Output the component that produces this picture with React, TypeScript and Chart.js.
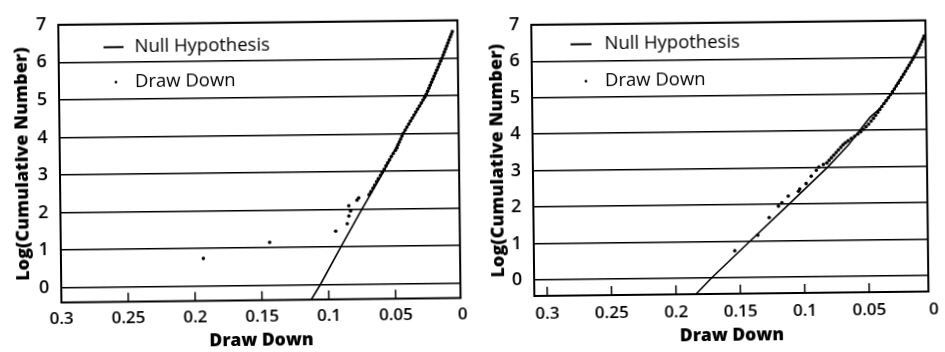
import { useEffect, useRef } from "react";
import { Chart, registerables } from "chart.js";

Chart.register(...registerables);

const FONT = "'Open Sans', 'DejaVu Sans', sans-serif";

// Shared axis ticks and labels (x axis runs from 0.3 down to 0)
const xTickValues = [0.3, 0.25, 0.2, 0.15, 0.1, 0.05, 0];
const xTickLabels = ["0.3", "0.25", "0.2", "0.15", "0.1", "0.05", "0"];
const yTickValues = [0, 1, 2, 3, 4, 5, 6, 7];

const seriesNames = ["Null Hypothesis", "Draw Down"];
const xTitle = "Draw Down";
const yTitle = "Log(Cumulative Number)";

// Left panel: null-hypothesis curve [drawdown, log count]
const leftNull: [number, number][] = [
  [0.1135, -0.42], [0.1062, 0], [0.0905, 1], [0.0744, 2], [0.0578, 3],
  [0.0429, 4], [0.0255, 5], [0.0132, 6], [0.0052, 6.72],
];

// Left panel: observed drawdowns
const leftDrawDown: [number, number][] = [
  [0.1935, 0.73], [0.1438, 1.14], [0.0943, 1.42], [0.0856, 1.61], [0.0843, 1.82],
  [0.083, 1.95], [0.0843, 2.09], [0.0781, 2.24], [0.0768, 2.3],
  [0.069, 2.38], [0.0676, 2.46], [0.0661, 2.55], [0.0648, 2.63], [0.0633, 2.72],
  [0.062, 2.8], [0.0604, 2.89], [0.0591, 2.97], [0.0576, 3.05], [0.0562, 3.14],
  [0.0549, 3.22], [0.0535, 3.3], [0.0521, 3.39], [0.0506, 3.47], [0.049, 3.55],
  [0.0478, 3.62], [0.047, 3.7], [0.046, 3.77], [0.045, 3.85], [0.044, 3.93],
  [0.0428, 4.01], [0.0415, 4.09], [0.0402, 4.17], [0.0388, 4.25], [0.0375, 4.33],
  [0.0361, 4.41], [0.0347, 4.49], [0.0334, 4.57], [0.032, 4.65], [0.0306, 4.73],
  [0.0292, 4.81], [0.0279, 4.89], [0.0266, 4.96], [0.0254, 5.04], [0.0244, 5.12],
  [0.0234, 5.2], [0.0224, 5.28], [0.0214, 5.36], [0.0204, 5.44], [0.0194, 5.52],
  [0.0184, 5.6], [0.0174, 5.68], [0.0164, 5.76], [0.0154, 5.84], [0.0144, 5.92],
  [0.0133, 6.0], [0.0124, 6.08], [0.0115, 6.16], [0.0106, 6.24], [0.0097, 6.32],
  [0.0088, 6.4], [0.0079, 6.48], [0.007, 6.56], [0.0062, 6.63], [0.0054, 6.7],
];

// Right panel: null-hypothesis curve
const rightNull: [number, number][] = [
  [0.1845, -0.44], [0.1723, 0], [0.142, 1], [0.1115, 2], [0.0813, 3],
  [0.065, 3.6], [0.056, 4.0], [0.048, 4.35], [0.04, 4.6], [0.031, 5.0],
  [0.013, 6.0], [0.0052, 6.57],
];

// Right panel: observed drawdowns
const rightDrawDown: [number, number][] = [
  [0.154, 0.74], [0.136, 1.16], [0.127, 1.64], [0.1197, 1.95], [0.117, 2.04],
  [0.112, 2.22], [0.104, 2.35], [0.103, 2.41], [0.098, 2.56], [0.094, 2.76],
  [0.09, 2.92], [0.088, 3.01], [0.0845, 3.08],
  [0.0818, 3.12], [0.08, 3.19], [0.0782, 3.26], [0.0763, 3.33], [0.0745, 3.4],
  [0.0727, 3.47], [0.0708, 3.54], [0.069, 3.61], [0.0671, 3.67], [0.065, 3.72],
  [0.0625, 3.78], [0.06, 3.84], [0.0575, 3.9], [0.0552, 3.96], [0.053, 4.03],
  [0.051, 4.1], [0.049, 4.17], [0.047, 4.25], [0.0452, 4.33], [0.0435, 4.41],
  [0.0418, 4.49], [0.0402, 4.57], [0.0385, 4.65], [0.0368, 4.73], [0.0351, 4.81],
  [0.0334, 4.89], [0.0318, 4.97], [0.0302, 5.05], [0.0287, 5.13], [0.0272, 5.21],
  [0.0257, 5.29], [0.0242, 5.37], [0.0228, 5.45], [0.0213, 5.53], [0.0199, 5.61],
  [0.0185, 5.69], [0.0171, 5.77], [0.0157, 5.85], [0.0143, 5.93], [0.013, 6.01],
  [0.0117, 6.09], [0.0105, 6.17], [0.0093, 6.25], [0.0082, 6.33], [0.0071, 6.41],
  [0.0061, 6.49], [0.0052, 6.57],
];

type LegendSpot = { lineX: number; lineLen: number; dotX: number; textX: number; row1: number; row2: number };

type PanelLayout = {
  width: number;
  tilt: number;
  padTop: number;
  padRight: number;
  yAxisW: number;
  xAxisH: number;
  xMin: number;
  xMax: number;
  yMin: number;
  xTickPad: number;
  yTickPad: number;
  yTitlePad: number;
  xTitlePad: number;
  legend: LegendSpot;
};

const leftLayout: PanelLayout = {
  width: 472, tilt: -0.65, padTop: 19, padRight: 9, yAxisW: 60, xAxisH: 51.5,
  xMin: 0.0015, xMax: 0.3, yMin: -0.4, xTickPad: 6, yTickPad: 12, yTitlePad: 12, xTitlePad: 0,
  legend: { lineX: 45, lineLen: 20, dotX: 57, textX: 76, row1: 23, row2: 58 },
};

const rightLayout: PanelLayout = {
  width: 473, tilt: -0.65, padTop: 12.5, padRight: 12, yAxisW: 61, xAxisH: 58,
  xMin: 0.004, xMax: 0.31, yMin: -0.44, xTickPad: 8, yTickPad: 12, yTitlePad: 15, xTitlePad: 5,
  legend: { lineX: 39, lineLen: 21, dotX: 54, textX: 73, row1: 20, row2: 57 },
};

// Plot frame, inward x tick marks and the in-plot legend
function makeFrame(lg: LegendSpot) {
  return {
    id: "panelFrame",
    afterDraw(chart: any) {
      const { ctx, chartArea: a } = chart;
      const xs = chart.scales.x;
      ctx.save();
      ctx.strokeStyle = "#000";
      ctx.fillStyle = "#000";

      ctx.lineWidth = 1.5;
      ctx.beginPath();
      for (const v of xTickValues) {
        const px = xs.getPixelForValue(v);
        if (px > a.left + 4 && px < a.right - 4) {
          ctx.moveTo(px, a.bottom);
          ctx.lineTo(px, a.bottom - 9);
        }
      }
      ctx.stroke();

      ctx.lineWidth = 2;
      ctx.strokeRect(a.left, a.top, a.right - a.left, a.bottom - a.top);

      const ds = chart.data.datasets;
      ctx.font = `18.5px ${FONT}`;
      ctx.textBaseline = "middle";
      ctx.textAlign = "left";
      const y1 = a.top + lg.row1;
      const y2 = a.top + lg.row2;
      ctx.lineWidth = 2;
      ctx.beginPath();
      ctx.moveTo(a.left + lg.lineX, y1);
      ctx.lineTo(a.left + lg.lineX + lg.lineLen, y1);
      ctx.stroke();
      ctx.fillText(ds[0].label, a.left + lg.textX, y1);
      ctx.beginPath();
      ctx.arc(a.left + lg.dotX, y2, 1.4, 0, Math.PI * 2);
      ctx.fill();
      ctx.fillText(ds[1].label, a.left + lg.textX, y2);
      ctx.restore();
    },
  };
}

function Panel({ nullPts, drawPts, layout }: { nullPts: [number, number][]; drawPts: [number, number][]; layout: PanelLayout }) {
  const ref = useRef<HTMLCanvasElement>(null);

  useEffect(() => {
    const canvas = ref.current;
    if (!canvas) return;
    const L = layout;
    const chart = new Chart(canvas, {
      type: "scatter",
      data: {
        datasets: [
          {
            label: seriesNames[0],
            data: nullPts.map(([x, y]) => ({ x, y })),
            showLine: true,
            borderColor: "#000",
            borderWidth: 1.6,
            pointRadius: 0,
            tension: 0,
          },
          {
            label: seriesNames[1],
            data: drawPts.map(([x, y]) => ({ x, y })),
            showLine: false,
            pointRadius: 1.8,
            pointBackgroundColor: "#000",
            pointBorderWidth: 0,
          },
        ],
      },
      options: {
        responsive: false,
        animation: false,
        layout: { padding: { left: 0, top: L.padTop, right: L.padRight, bottom: 0 } },
        plugins: {
          legend: { display: false },
          tooltip: { enabled: false },
        },
        scales: {
          x: {
            type: "linear",
            reverse: true,
            min: L.xMin,
            max: L.xMax,
            afterBuildTicks: (s: any) => {
              s.ticks = xTickValues.map((value) => ({ value }));
            },
            afterFit: (s: any) => {
              s.height = L.xAxisH;
            },
            grid: { display: false, drawTicks: false },
            border: { display: false },
            ticks: {
              autoSkip: false,
              maxRotation: 0,
              minRotation: 0,
              padding: L.xTickPad,
              color: "#000",
              font: { family: FONT, size: 17, weight: "600" },
              callback: (v: any) => {
                const i = xTickValues.indexOf(Number(v));
                return i >= 0 ? xTickLabels[i] : "";
              },
            },
            title: {
              display: true,
              text: xTitle,
              color: "#000",
              font: { family: FONT, size: 17.5, weight: "800" },
              padding: { top: 0, bottom: L.xTitlePad },
            },
          },
          y: {
            type: "linear",
            min: L.yMin,
            max: 7,
            afterBuildTicks: (s: any) => {
              s.ticks = yTickValues.map((value) => ({ value }));
            },
            afterFit: (s: any) => {
              s.width = L.yAxisW;
            },
            grid: { color: "#000", lineWidth: 1.4, drawTicks: false },
            border: { display: false },
            ticks: {
              padding: L.yTickPad,
              color: "#000",
              font: { family: FONT, size: 18, weight: "600" },
              callback: (v: any) => String(v),
            },
            title: {
              display: true,
              text: yTitle,
              color: "#000",
              font: { family: FONT, size: 18, weight: "800" },
              padding: { top: L.yTitlePad, bottom: 0 },
            },
          },
        },
      },
      plugins: [makeFrame(L.legend)],
    });
    return () => chart.destroy();
  }, [nullPts, drawPts, layout]);

  return (
    <canvas
      ref={ref}
      width={layout.width}
      height={352}
      style={{ display: "block", flex: "none", width: layout.width, height: 352, transform: `rotate(${layout.tilt}deg)` }}
    />
  );
}

export default function App() {
  return (
    <>
      <style>{"html, body { margin: 0; padding: 0; background: #fff; }"}</style>
      <div style={{ width: 945, height: 352, display: "flex", background: "#fff", overflow: "hidden" }}>
        <Panel nullPts={leftNull} drawPts={leftDrawDown} layout={leftLayout} />
        <Panel nullPts={rightNull} drawPts={rightDrawDown} layout={rightLayout} />
      </div>
    </>
  );
}
